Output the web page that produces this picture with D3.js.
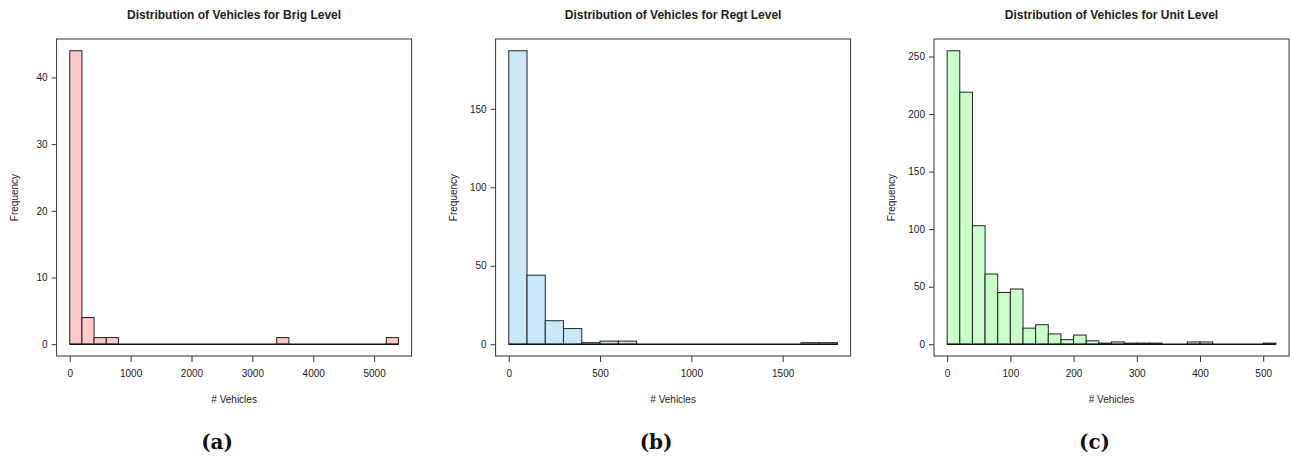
<!DOCTYPE html>
<html>
<head>
<meta charset="utf-8">
<script src="https://cdn.jsdelivr.net/npm/d3@7"></script>
<style>
  body { margin: 0; background: #fff; }
  text { font-family: "Liberation Sans", Arial, sans-serif; fill: #222; }
  .title { font-weight: bold; font-size: 12px; }
  .axis text { font-size: 10px; }
  .axis line { stroke: #333; }
  .axis path { display: none; }
  .sub { font-family: "DejaVu Serif", serif; font-weight: bold; font-size: 20px; fill: #111; }
</style>
</head>
<body>
<script>
// histogram counts (bins start at 0)
var brigBinWidth = 200;
var brigCounts = [44, 4, 1, 1, 0, 0, 0, 0, 0, 0, 0, 0, 0, 0, 0, 0, 0, 1, 0, 0, 0, 0, 0, 0, 0, 0, 1];
var brigTicksX = [0, 1000, 2000, 3000, 4000, 5000];
var brigTicksY = [0, 10, 20, 30, 40];

var regtBinWidth = 100;
var regtCounts = [187, 44, 15, 10, 1, 2, 2, 0, 0, 0, 0, 0, 0, 0, 0, 0, 1, 1];
var regtTicksX = [0, 500, 1000, 1500];
var regtTicksY = [0, 50, 100, 150];

var unitBinWidth = 20;
var unitCounts = [255, 219, 103, 61, 45, 48, 14, 17, 9, 4, 8, 3, 1, 2, 1, 1, 1, 0, 0, 2, 2, 0, 0, 0, 0, 1];
var unitTicksX = [0, 100, 200, 300, 400, 500];
var unitTicksY = [0, 50, 100, 150, 200, 250];

var titles = ["Distribution of Vehicles for Brig Level",
              "Distribution of Vehicles for Regt Level",
              "Distribution of Vehicles for Unit Level"];
var subLabels = ["(a)", "(b)", "(c)"];
var fills = ["#ffc9c9", "#c9e9fb", "#c9fdc9"];

var width = 1291,
    height = 459;

var svg = d3.select("body")
    .append("svg")
    .attr("width", width)
    .attr("height", height);

var panels = [
    {bw: brigBinWidth, counts: brigCounts, tx: brigTicksX, ty: brigTicksY},
    {bw: regtBinWidth, counts: regtCounts, tx: regtTicksX, ty: regtTicksY},
    {bw: unitBinWidth, counts: unitCounts, tx: unitTicksX, ty: unitTicksY}
];

// plot box geometry
var boxLeft = [56.6, 495.6, 934],
    boxW = 355,
    boxTop = 39,
    boxBottom = 356;

panels.forEach(function(p, i) {
    var bins = p.counts.map(function(c, j) {
        return {x0: j * p.bw, x1: (j + 1) * p.bw, n: c};
    });
    var xMax = p.counts.length * p.bw,
        yMax = d3.max(p.counts);

    // R style 4% padding on both axes
    var x = d3.scaleLinear()
        .domain([-0.04 * xMax, 1.04 * xMax])
        .range([boxLeft[i], boxLeft[i] + boxW]);
    var y = d3.scaleLinear()
        .domain([-0.04 * yMax, 1.04 * yMax])
        .range([boxBottom, boxTop]);

    var g = svg.append("g").attr("class", "panel");

    // bars
    g.selectAll(".bar")
        .data(bins)
        .enter()
        .append("rect")
        .attr("class", "bar")
        .attr("x", function(d) { return x(d.x0); })
        .attr("width", function(d) { return x(d.x1) - x(d.x0); })
        .attr("y", function(d) { return y(d.n); })
        .attr("height", function(d) { return y(0) - y(d.n); })
        .attr("fill", fills[i])
        .attr("stroke", "#222")
        .attr("stroke-width", 1);

    // zero baseline
    g.append("line")
        .attr("x1", x(0)).attr("x2", x(xMax))
        .attr("y1", y(0)).attr("y2", y(0))
        .attr("stroke", "#111")
        .attr("stroke-width", 1.3);

    // box
    g.append("rect")
        .attr("x", boxLeft[i]).attr("y", boxTop)
        .attr("width", boxW).attr("height", boxBottom - boxTop)
        .attr("fill", "none")
        .attr("stroke", "#333")
        .attr("stroke-width", 1);

    // axes
    g.append("g")
        .attr("class", "axis")
        .attr("transform", "translate(0," + boxBottom + ")")
        .call(d3.axisBottom(x).tickValues(p.tx).tickFormat(d3.format("d")).tickSize(6).tickPadding(8));

    g.append("g")
        .attr("class", "axis")
        .attr("transform", "translate(" + boxLeft[i] + ",0)")
        .call(d3.axisLeft(y).tickValues(p.ty).tickFormat(d3.format("d")).tickSize(5).tickPadding(4));

    var cx = boxLeft[i] + boxW / 2;

    g.append("text")
        .attr("class", "title")
        .attr("x", cx).attr("y", 18.5)
        .attr("text-anchor", "middle")
        .text(titles[i]);

    g.append("text")
        .attr("class", "axis-label")
        .attr("x", cx).attr("y", 402.5)
        .attr("text-anchor", "middle")
        .style("font-size", "10px")
        .text("# Vehicles");

    g.append("text")
        .attr("transform", "translate(" + (boxLeft[i] - 42.6) + "," + ((boxTop + boxBottom) / 2) + ") rotate(-90)")
        .attr("text-anchor", "middle")
        .attr("dy", "0.35em")
        .style("font-size", "10px")
        .text("Frequency");

    g.append("text")
        .attr("class", "sub")
        .attr("x", cx - 17).attr("y", 448.5)
        .attr("text-anchor", "middle")
        .text(subLabels[i]);
});
</script>
</body>
</html>
